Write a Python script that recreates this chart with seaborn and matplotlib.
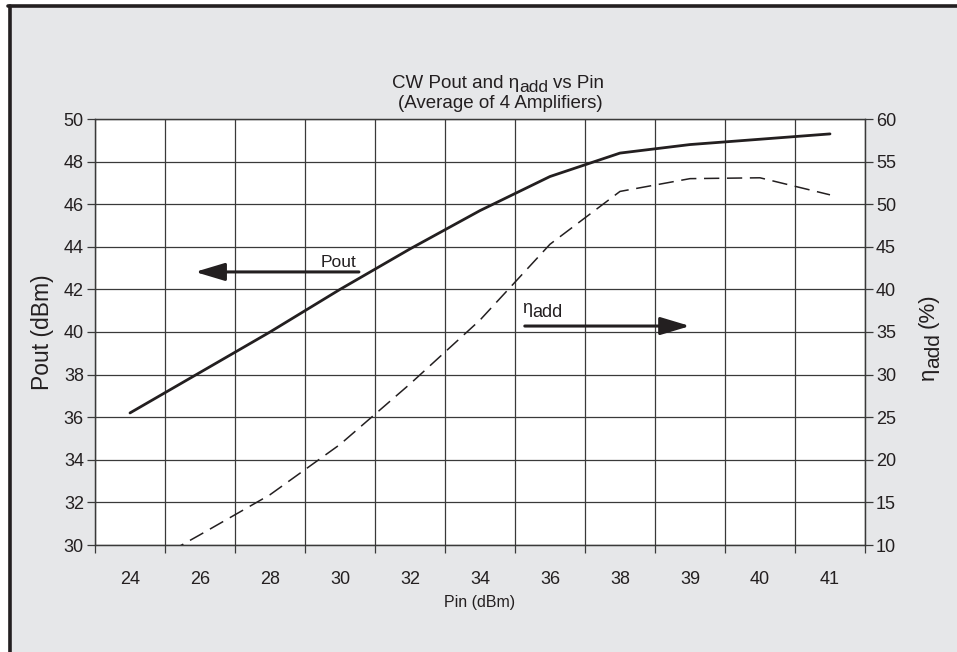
import matplotlib
matplotlib.use("Agg")
import matplotlib.pyplot as plt
from matplotlib.patches import Rectangle
import numpy as np
import pandas as pd
import seaborn as sns

# Input drive levels (dBm), shown as evenly spaced categories
pin_labels = ["24", "26", "28", "30", "32", "34", "36", "38", "39", "40", "41"]
# Average output power (dBm)
pout_dbm = [36.2, 38.1, 40.0, 42.0, 43.9, 45.7, 47.3, 48.4, 48.8, 49.05, 49.3]
# Power-added efficiency (%)
eta_add = [6.6, 11.2, 15.9, 21.8, 28.9, 36.4, 45.3, 51.5, 53.0, 53.1, 51.1]

pout_ticks = [30, 32, 34, 36, 38, 40, 42, 44, 46, 48, 50]
eta_ticks = [10, 15, 20, 25, 30, 35, 40, 45, 50, 55, 60]

sns.set_theme(style="white")
plt.rcParams["font.family"] = ["Liberation Sans", "DejaVu Sans"]

ink = "#231f20"
grid_c = "#3a3a3a"
bg = "#e6e7e9"

W, H = 957, 652
fig = plt.figure(figsize=(W / 100, H / 100), dpi=100)
fig.patch.set_facecolor(bg)
# white margin outside the dark frame on the top and left edges
fig.patches.append(Rectangle((0, 0), 8 / W, 1, transform=fig.transFigure,
                             facecolor="white", edgecolor="none", zorder=-5))
fig.patches.append(Rectangle((0, 1 - 5 / H), 1, 5 / H, transform=fig.transFigure,
                             facecolor="white", edgecolor="none", zorder=-5))
fig.lines.append(plt.Line2D([9.5 / W, 9.5 / W], [0, 1 - 6 / H], transform=fig.transFigure,
                            color=ink, lw=2.6, zorder=-4))
fig.lines.append(plt.Line2D([8 / W, 1], [1 - 6 / H, 1 - 6 / H], transform=fig.transFigure,
                            color=ink, lw=2.6, zorder=-4))

renderer = fig.canvas.get_renderer()


def text_width(s, size):
    t = fig.text(0, 0, s, fontsize=size)
    w = t.get_window_extent(renderer).width
    t.remove()
    return w


def rich_text(x_px, y_px, pieces, rotation=0, align="center"):
    """Draw text runs (string, size, baseline shift px, gap px) along one baseline.
    x_px, y_px are pixels from the top-left corner."""
    widths = [text_width(s, sz) for s, sz, _, _ in pieces]
    total = sum(widths) + sum(g for _, _, _, g in pieces)
    start = -total / 2 if align == "center" else 0.0
    r = np.deg2rad(rotation)
    d = np.array([np.cos(r), np.sin(r)])
    nrm = np.array([-np.sin(r), np.cos(r)])
    origin = np.array([x_px, H - y_px])
    adv = start
    for (s, sz, shift, gap), w in zip(pieces, widths):
        adv += gap
        p = origin + adv * d + shift * nrm
        fig.text(p[0] / W, p[1] / H, s, fontsize=sz, color=ink, rotation=rotation,
                 rotation_mode="anchor", ha="left", va="baseline")
        adv += w


ax = fig.add_axes([95 / W, 1 - 545 / H, 770 / W, 426 / H])
ax.set_facecolor("white")
ax2 = ax.twinx()

df = pd.DataFrame({"pos": np.arange(len(pin_labels)), "pout": pout_dbm, "eta": eta_add})

sns.lineplot(data=df, x="pos", y="pout", ax=ax, color=ink, lw=2.0, zorder=5)
sns.lineplot(data=df, x="pos", y="eta", ax=ax2, color=ink, lw=1.1, zorder=5)
ax2.lines[0].set_dashes([10, 5])

n = len(pin_labels)
for a in (ax, ax2):
    a.set_xlim(-0.5, n - 0.5)
ax.set_ylim(30, 50)
ax2.set_ylim(10, 60)

# category boundaries carry the vertical grid and the x tick marks
ax.set_xticks(np.arange(n))
ax.set_xticklabels(pin_labels)
ax.set_xticks(np.arange(n + 1) - 0.5, minor=True)
ax.tick_params(axis="x", which="major", length=0, pad=19, labelsize=13, labelcolor=ink)
ax.tick_params(axis="x", which="minor", length=6, width=0.9, color=grid_c, direction="out",
               bottom=True)
ax.grid(True, axis="x", which="minor", color=grid_c, lw=0.9)
ax.grid(False, axis="x", which="major")

ax.set_yticks(pout_ticks)
ax.tick_params(axis="y", length=6, width=0.9, color=grid_c, direction="out",
               labelsize=13, labelcolor=ink, pad=2, left=True)
ax.grid(True, axis="y", color=grid_c, lw=0.9)

ax2.set_yticks(eta_ticks)
ax2.tick_params(axis="y", length=6, width=0.9, color=grid_c, direction="out",
                labelsize=13, labelcolor=ink, pad=2, right=True)
ax2.grid(False)
ax2.set_xlabel("")
ax2.set_ylabel("")

for a in (ax, ax2):
    for s in a.spines.values():
        s.set_color(grid_c)
        s.set_linewidth(0.9)

ax.set_xlabel("Pin (dBm)", fontsize=11.5, color=ink, labelpad=5)
ax.set_ylabel("Pout (dBm)", fontsize=16.5, color=ink, labelpad=7)

# right-hand axis title with a near full-size subscript
rich_text(934, 337, [("η", 16, 0, 0), ("add", 15, -5, 0), ("(%)", 16, 0, 5)],
          rotation=90)

# two-line heading
rich_text(498, 88, [("CW Pout and η", 13.5, 0, 0), ("add", 12.5, -3.5, 0), ("vs Pin", 13.5, 0, 5)])
rich_text(500, 108, [("(Average of 4 Amplifiers)", 13.5, 0, 0)])

# series call-outs with arrows toward their axes
arrow_kw = dict(arrowstyle="-|>,head_length=1.5,head_width=0.45", color=ink, lw=2.2,
                shrinkA=0, shrinkB=0)
ax.annotate("", xy=(0.93, 42.82), xytext=(3.27, 42.82), arrowprops=arrow_kw, zorder=6)
ax.text(3.24, 43.05, "Pout", ha="right", va="baseline", fontsize=12.5, color=ink, zorder=6)
ax.annotate("", xy=(8.0, 40.28), xytext=(5.64, 40.28), arrowprops=arrow_kw, zorder=6)
rich_text(522, 313, [("η", 13, 0, 0), ("add", 13, -4, 0)], align="left")

ax.set_zorder(ax2.get_zorder() - 1)
ax2.patch.set_visible(False)

fig.savefig("out.png", dpi=100, facecolor=fig.get_facecolor())
